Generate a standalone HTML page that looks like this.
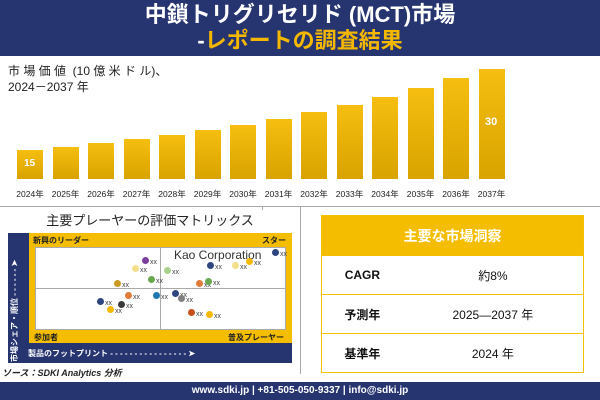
<!DOCTYPE html><html><head><meta charset="utf-8"><style>
body{margin:0;width:600px;height:400px;position:relative;overflow:hidden;background:#fff;font-family:"Liberation Sans","Noto Sans CJK JP",sans-serif}
.a{position:absolute}
.bar{position:absolute;width:26px;background:linear-gradient(#f5be10,#d9a300)}
.yl{position:absolute;top:188px;font-size:8.5px;color:#222;width:36px;text-align:center}
.d{position:absolute;width:7px;height:7px;border-radius:50%}
.x{position:absolute;font-size:7px;color:#444}
td{border:1px solid #f5c000;text-align:center;font-size:12px;color:#111;padding:0;box-sizing:border-box}
</style></head><body>
<div class="a" style="left:0;top:0;width:600px;height:56px;background:#263470"></div>
<div class="a" style="left:0;top:0;width:600px;text-align:center;color:#fff;font-size:22px;line-height:30px;font-weight:bold">中鎖トリグリセリド (MCT)市場</div>
<div class="a" style="left:0;top:27px;width:600px;text-align:center;color:#f5b800;font-size:22px;line-height:28px;font-weight:bold"><span style="color:#fff">-</span>レポートの調査結果</div>
<div class="a" style="left:8px;top:63px;font-size:12px;color:#222;line-height:16px">市 場 価 値 &nbsp;(10 億 米 ド ル)、<br>2024－2037 年</div>
<div id="bars"></div>
<div class="a" style="left:0;top:206px;width:600px;height:1px;background:#aaa"></div>
<div class="a" style="left:262px;top:206px;width:1px;height:4px;background:#aaa"></div>
<div class="a" style="left:0;top:210px;width:300px;text-align:center;font-size:13px;color:#222">主要プレーヤーの評価マトリックス</div>
<div class="a" style="left:8px;top:233px;width:284px;height:130px;background:#263470"></div>
<div class="a" style="left:29px;top:233px;width:263px;height:110px;background:#f5bd00"></div>
<div class="a" style="left:35px;top:247px;width:251px;height:83px;background:#fff;border:1px solid #aaa;box-sizing:border-box"></div>
<div class="a" style="left:160px;top:247px;width:1px;height:83px;background:#aaa"></div>
<div class="a" style="left:35px;top:288px;width:251px;height:1px;background:#aaa"></div>
<div class="a" style="left:33px;top:235px;font-size:8px;font-weight:bold;color:#222">新興のリーダー</div>
<div class="a" style="left:262px;top:235px;font-size:8px;font-weight:bold;color:#222">スター</div>
<div class="a" style="left:34px;top:332px;font-size:8px;font-weight:bold;color:#222">参加者</div>
<div class="a" style="left:228px;top:332px;font-size:8px;font-weight:bold;color:#222">普及プレーヤー</div>
<div class="a" style="left:174px;top:248px;font-size:12px;color:#333">Kao Corporation</div>
<div class="a" style="left:28px;top:348px;font-size:8px;color:#fff;font-weight:bold">製品のフットプリント - - - - - - - - - - - - - - - - ➤</div>
<div class="a" style="left:9px;top:362px;font-size:8px;color:#fff;font-weight:bold;transform:rotate(-90deg);transform-origin:0 0;white-space:nowrap">市場シェア・順位 - - - - - - ➤</div>
<div id="dots"></div>
<div class="a" style="left:2px;top:366px;font-size:9px;font-style:italic;font-weight:bold;color:#222">ソース：SDKI Analytics 分析</div>
<div class="a" style="left:300px;top:206px;width:1px;height:168px;background:#aaa"></div>
<table class="a" style="left:321px;top:215px;width:263px;border-collapse:collapse">
<tr><td colspan="2" style="background:#f5bd00;color:#fff;height:40px;font-size:14px;font-weight:bold">主要な市場洞察</td></tr>
<tr><td style="height:39px;border-right:none;font-weight:bold">CAGR</td><td style="border-left:none">約8%</td></tr>
<tr><td style="height:39px;border-right:none;font-weight:bold">予測年</td><td style="border-left:none">2025—2037 年</td></tr>
<tr><td style="height:39px;border-right:none;font-weight:bold">基準年</td><td style="border-left:none">2024 年</td></tr>
</table>
<div class="a" style="left:0;top:382px;width:600px;height:18px;background:#263470;color:#fff;font-size:10px;font-weight:bold;text-align:center;line-height:18px">www.sdki.jp | +81-505-050-9337 | info@sdki.jp</div>
<script>
var t=[150,147,143,139,135,130,125,119,112,105,97,88,78,69],h='';
for(var i=0;i<14;i++){var x=17+i*35.5;h+='<div class="bar" style="left:'+x+'px;top:'+t[i]+'px;height:'+(179-t[i])+'px"></div><div class="yl" style="left:'+(x-5)+'px">'+(2024+i)+'年</div>';}
h+='<div class="a" style="left:24px;top:158px;font-size:10px;font-weight:bold;color:#fff">15</div><div class="a" style="left:485px;top:116px;font-size:11px;font-weight:bold;color:#fff">30</div>';
document.getElementById('bars').innerHTML=h;
var d=[[145,260,'#7b3fa0'],[135,268,'#f2e08a'],[117,283,'#c99a20'],[151,279,'#6aa84f'],[167,270,'#a9d18e'],[210,265,'#2e4580'],[235,265,'#f2e08a'],[249,261,'#f5b800'],[275,252,'#2e4580'],[199,283,'#e07b39'],[208,281,'#6aa84f'],[128,295,'#e07b39'],[156,295,'#1f78b4'],[175,293,'#2e4580'],[181,298,'#808080'],[100,301,'#2e4580'],[121,304,'#3a3a3a'],[110,309,'#f5b800'],[191,312,'#c8511b'],[209,314,'#f5b800']];
h='';d.forEach(function(p){h+='<div class="d" style="left:'+(p[0]-3)+'px;top:'+(p[1]-3)+'px;background:'+p[2]+'"></div><div class="x" style="left:'+(p[0]+5)+'px;top:'+(p[1]-1)+'px">xx</div>';});
document.getElementById('dots').innerHTML=h;
</script>
</body></html>
